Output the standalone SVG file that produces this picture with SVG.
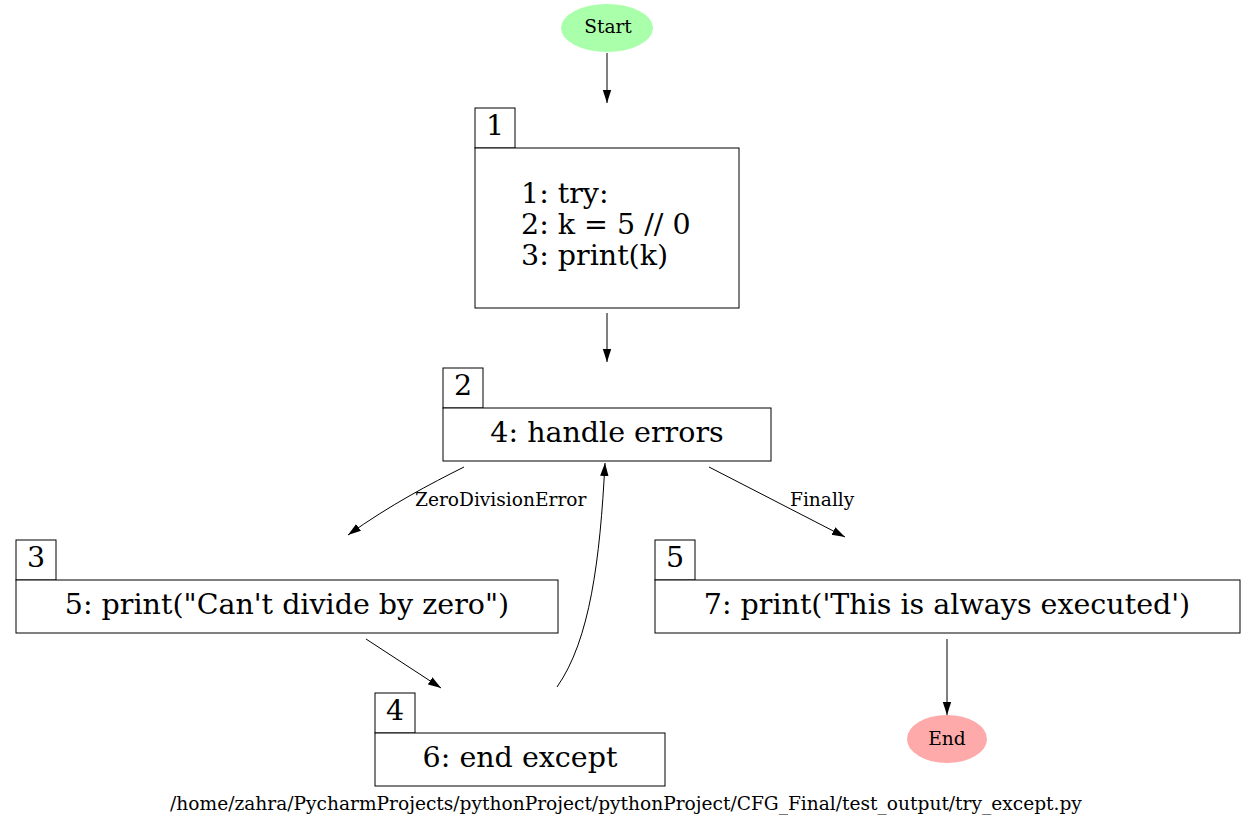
<svg xmlns="http://www.w3.org/2000/svg" width="1256" height="828" viewBox="0 0 1256 828">
<style>
text{font-family:"DejaVu Serif","Liberation Serif",serif;fill:#000}
.big{font-size:28.5px}
.sm{font-size:18.6px}
.box{fill:#fff;stroke:#000;stroke-width:1}
.edge{fill:none;stroke:#000;stroke-width:1}
</style>
<defs>
<marker id="ah" viewBox="0 0 13 10" refX="13" refY="5" markerWidth="13" markerHeight="10" markerUnits="userSpaceOnUse" orient="auto">
<path d="M0,0.8 L13,5 L0,9.2 Z" fill="#000"/>
</marker>
</defs>
<rect width="1256" height="828" fill="#fff"/>
<g id="connectors">
<path class="edge" d="M607,53 L607,103" marker-end="url(#ah)"/>
<path class="edge" d="M607,313 L607,362" marker-end="url(#ah)"/>
<path class="edge" d="M464,467 C430,484 390,505 348,535" marker-end="url(#ah)"/>
<text class="sm" x="415" y="506">ZeroDivisionError</text>
<path class="edge" d="M709,467 L845,537" marker-end="url(#ah)"/>
<text class="sm" x="790" y="506">Finally</text>
<path class="edge" d="M366,639 L441,688" marker-end="url(#ah)"/>
<path class="edge" d="M557,687 C590,640 600,560 605,463" marker-end="url(#ah)"/>
<path class="edge" d="M947,639 L947,715" marker-end="url(#ah)"/>
</g>
<g id="start">
<ellipse cx="607" cy="28" rx="46" ry="24" fill="#aaffaa"/>
<text class="sm" x="608" y="33" text-anchor="middle">Start</text>
</g>
<g id="node1">
<rect class="box" x="475" y="108" width="40" height="40"/>
<text class="big" x="495" y="135" text-anchor="middle">1</text>
<rect class="box" x="475" y="148" width="264" height="160"/>
<text class="big" x="521" y="203">1: try:</text>
<text class="big" x="521" y="234">2: k = 5 // 0</text>
<text class="big" x="521" y="265">3: print(k)</text>
</g>
<g id="node2">
<rect class="box" x="443" y="368" width="40" height="40"/>
<text class="big" x="463" y="395" text-anchor="middle">2</text>
<rect class="box" x="443" y="408" width="328" height="53"/>
<text class="big" x="607" y="442" text-anchor="middle">4: handle errors</text>
</g>
<g id="node3">
<rect class="box" x="16" y="540" width="40" height="40"/>
<text class="big" x="36" y="567" text-anchor="middle">3</text>
<rect class="box" x="16" y="580" width="542" height="53"/>
<text class="big" x="287" y="614" text-anchor="middle">5: print("Can't divide by zero")</text>
</g>
<g id="node4">
<rect class="box" x="375" y="693" width="40" height="40"/>
<text class="big" x="395" y="720" text-anchor="middle">4</text>
<rect class="box" x="375" y="733" width="290" height="53"/>
<text class="big" x="520" y="767" text-anchor="middle">6: end except</text>
</g>
<g id="node5">
<rect class="box" x="655" y="540" width="40" height="40"/>
<text class="big" x="675" y="567" text-anchor="middle">5</text>
<rect class="box" x="655" y="580" width="585" height="53"/>
<text class="big" x="947" y="614" text-anchor="middle">7: print('This is always executed')</text>
</g>
<g id="end">
<ellipse cx="947" cy="739" rx="40" ry="24" fill="#ffaaaa"/>
<text class="sm" x="947" y="745" text-anchor="middle">End</text>
</g>
<text class="sm" x="626" y="810" text-anchor="middle">/home/zahra/PycharmProjects/pythonProject/pythonProject/CFG_Final/test_output/try_except.py</text>
</svg>
